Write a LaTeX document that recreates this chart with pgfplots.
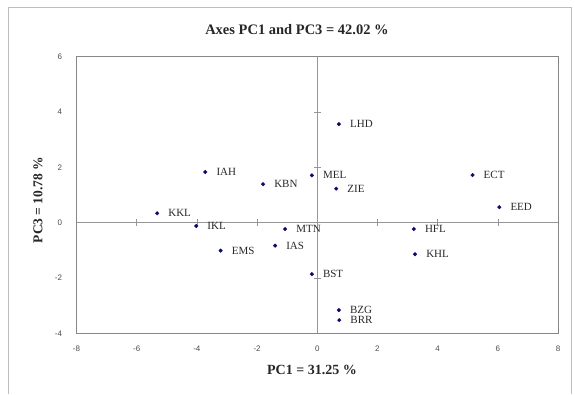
\documentclass[border=0pt]{standalone}
\usepackage{pgfplots}
\pgfplotsset{compat=1.18}
\usepackage{fontspec}
\setmainfont{Liberation Serif}
\newfontfamily\sansfont{Liberation Sans}
\definecolor{navyp}{RGB}{12,12,110}
\definecolor{framegray}{RGB}{135,135,135}
\definecolor{zerogray}{RGB}{150,150,150}
\definecolor{ticktext}{RGB}{75,75,75}
\definecolor{labtext}{RGB}{40,40,40}
\pgfplotstableread{
x y lab
0.72 3.56 LHD
-3.72 1.83 IAH
-1.80 1.39 KBN
-0.18 1.71 MEL
0.63 1.23 ZIE
5.16 1.72 ECT
6.05 0.56 EED
-5.32 0.34 KKL
-4.02 -0.12 IKL
-1.07 -0.23 MTN
-1.40 -0.83 IAS
-3.21 -1.01 EMS
3.21 -0.23 HFL
3.25 -1.14 KHL
-0.18 -1.86 BST
0.72 -3.16 BZG
0.73 -3.52 BRR
}\pcadata
\begin{document}
\begin{tikzpicture}[x=1pt,y=1pt]
\useasboundingbox (0,0) rectangle (575,394);
\draw[framegray!55, line width=0.9pt] (8,0) -- (8,387) -- (571,387) -- (571,0);
% zero axes with crossing ticks
\begin{axis}[at={(76.5pt,60.6pt)}, anchor=south west, scale only axis,
  width=481.5pt, height=276.8pt,
  xmin=-8, xmax=8, ymin=-4, ymax=6,
  axis lines=middle, axis line style={-, zerogray, line width=0.7pt},
  xtick={-6,-4,-2,2,4,6}, ytick={-2,2,4},
  xticklabels={}, yticklabels={},
  tick align=center, major tick length=7pt,
  tick style={zerogray, line width=0.6pt}]
\end{axis}
% box axis with data
\begin{axis}[at={(76.5pt,60.6pt)}, anchor=south west, scale only axis,
  width=481.5pt, height=276.8pt,
  xmin=-8, xmax=8, ymin=-4, ymax=6,
  xtick={-8,-6,...,8}, ytick={-4,-2,...,6},
  axis line style={framegray, line width=0.9pt},
  major tick length=0pt,
  /pgf/number format/assume math mode=true,
  tick label style={font=\sansfont\fontsize{8}{9.5}\selectfont, text=ticktext},
  xticklabel style={yshift=-9pt},
  yticklabel style={xshift=-11pt},
  clip=false]
\addplot[only marks, mark=*, mark size=1.8pt, navyp,
  nodes near coords, point meta=explicit symbolic,
  nodes near coords style={anchor=west, xshift=8pt, inner xsep=3pt, inner ysep=0pt,
    font=\fontsize{11}{12}\selectfont, text=labtext}]
  table[x=x, y=y, meta=lab] {\pcadata};
\end{axis}
\node[font=\bfseries\fontsize{14.5}{17}\selectfont, text=black!85] at (297,364) {Axes PC1 and PC3 = 42.02 \%};
\node[font=\bfseries\fontsize{14}{16}\selectfont, text=black!85] at (312,24) {PC1 = 31.25 \%};
\node[font=\bfseries\fontsize{13.5}{16}\selectfont, text=black!85, rotate=90] at (38,194) {PC3 = 10.78 \%};
\end{tikzpicture}
\end{document}
